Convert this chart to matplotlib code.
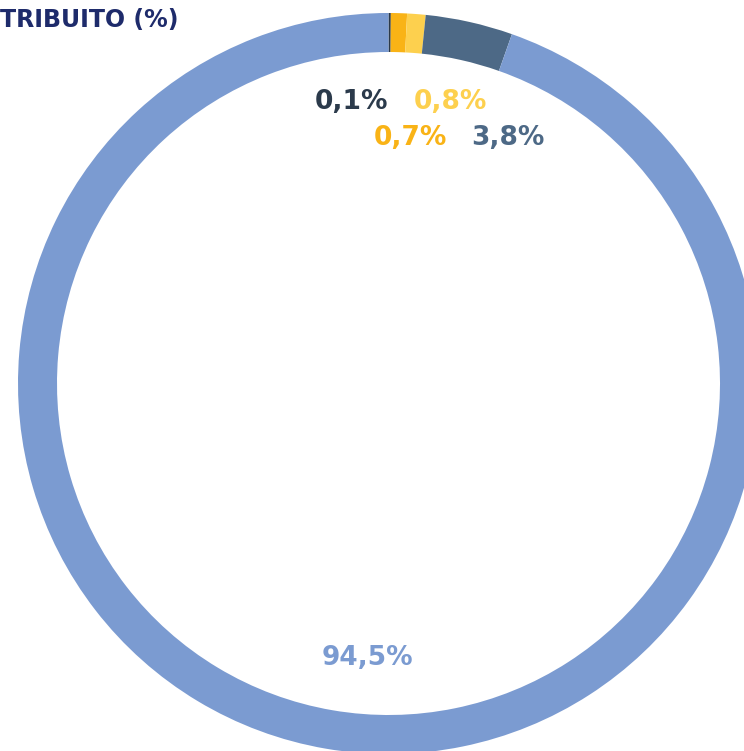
import matplotlib
matplotlib.use("Agg")
import matplotlib.pyplot as plt

# quote per tipo di contributo, in senso orario dall'alto
labels = ["0,1%", "0,7%", "0,8%", "3,8%", "94,5%"]
values = [0.1, 0.7, 0.8, 3.8, 94.5]
colors = ["#2b3a4b", "#f9b316", "#fdd04e", "#4d6986", "#7b9bd1"]
title = "TRIBUITO (%)"

W, H = 744, 751
fig = plt.figure(figsize=(W / 100, H / 100), dpi=100)
ax = fig.add_axes([0, 0, 1, 1])
ax.axis("off")

cx, cy = 388.5, H - 383.5
ax.pie(values, colors=colors, startangle=90, counterclock=False,
       center=(cx, cy), radius=370.5,
       wedgeprops=dict(width=39, linewidth=0))
ax.set_xlim(0, W)
ax.set_ylim(0, H)
ax.set_aspect("auto")

# etichette
label_pos = [(352, 102), (410, 138), (450, 102), (508, 138), (367, 658)]
for lab, col, (x, y) in zip(labels, colors, label_pos):
    ax.text(x, H - y, lab, color=col, fontsize=19, fontweight="bold",
            ha="center", va="center", family="DejaVu Sans")

fig.text(0.0, 1 - 20 / H, title, color="#1e2b6b", fontsize=17,
         fontweight="bold", ha="left", va="center", family="DejaVu Sans")

fig.savefig("out.png", dpi=100)
